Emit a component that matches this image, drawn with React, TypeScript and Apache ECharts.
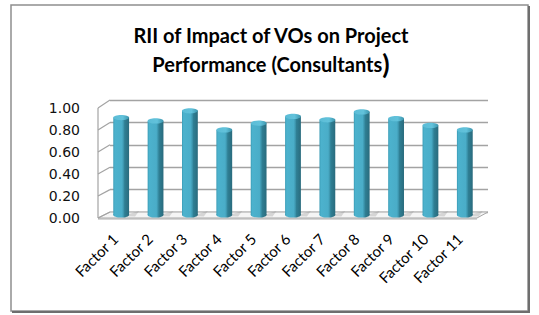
import React, { useEffect, useRef } from "react";
import * as echarts from "echarts";

const categories = [
  "Factor 1", "Factor 2", "Factor 3", "Factor 4", "Factor 5", "Factor 6",
  "Factor 7", "Factor 8", "Factor 9", "Factor 10", "Factor 11",
];
const riiValues = [0.87, 0.84, 0.93, 0.76, 0.82, 0.88, 0.85, 0.92, 0.86, 0.8, 0.76];
const yTicks = [0, 0.2, 0.4, 0.6, 0.8, 1.0];
const titleLine1 = "RII of Impact of VOs on Project";
const titleLine2 = "Performance (Consultants";

export default function App() {
  const ref = useRef<HTMLDivElement>(null);

  useEffect(() => {
    const chart = echarts.init(ref.current!, null, { renderer: "svg" });

    const bodyGradient = () =>
      new echarts.graphic.LinearGradient(0, 0, 1, 0, [
        { offset: 0, color: "#3A9BB5" },
        { offset: 0.1, color: "#4CB2CD" },
        { offset: 0.55, color: "#4AADC8" },
        { offset: 0.66, color: "#3B93AB" },
        { offset: 0.72, color: "#2F7F94" },
        { offset: 1, color: "#2A6B7D" },
      ]);
    const capGradient = () =>
      new echarts.graphic.LinearGradient(0, 0, 1, 0, [
        { offset: 0, color: "#5BBCD6" },
        { offset: 0.6, color: "#62C2DB" },
        { offset: 1, color: "#3C95AD" },
      ]);

    const axisMax = yTicks[yTicks.length - 1];
    const axisStep = yTicks[1] - yTicks[0];

    const option: any = {
      animation: false,
      backgroundColor: "#ffffff",
      title: {
        text: titleLine1 + "\n" + titleLine2 + "{p|)}",
        left: 266,
        top: 15,
        textAlign: "center",
        textStyle: {
          fontFamily: "Lato",
          fontWeight: "bold",
          fontSize: 20,
          lineHeight: 29,
          color: "#000000",
          rich: {
            p: { fontFamily: "Lato", fontWeight: "bold", fontSize: 27, lineHeight: 29, color: "#000000" },
          },
        },
      },
      grid: [
        { left: 110, right: 51, top: 100, bottom: 103 },
        { left: 104, right: 57, top: 103, bottom: 100 },
        { left: 98, right: 62, top: 108, bottom: 97 },
      ],
      xAxis: [
        { type: "category", data: categories, gridIndex: 0, show: false },
        { type: "category", data: categories, gridIndex: 1, show: false },
        {
          type: "category",
          data: categories,
          gridIndex: 2,
          axisLine: { show: false },
          axisTick: { show: false },
          axisLabel: {
            interval: 0,
            rotate: 45,
            margin: 18,
            fontFamily: "Lato",
            fontSize: 15,
            color: "#000000",
          },
        },
      ],
      yAxis: [
        {
          type: "value",
          gridIndex: 0,
          min: 0,
          max: axisMax,
          interval: axisStep,
          axisLine: { show: false },
          axisTick: { show: false },
          axisLabel: { show: false },
          splitLine: { lineStyle: { color: "#A3A3A3", width: 1.3 } },
        },
        { type: "value", gridIndex: 1, min: 0, max: axisMax, interval: axisStep, show: false },
        {
          type: "value",
          gridIndex: 2,
          min: 0,
          max: axisMax,
          interval: axisStep,
          axisLine: { show: false },
          axisTick: { show: false },
          splitLine: { show: false },
          axisLabel: {
            margin: 18,
            fontFamily: "DejaVu Sans",
            fontSize: 14,
            color: "#111111",
            formatter: (v: number) => v.toFixed(2),
          },
        },
      ],
      series: [
        {
          type: "custom",
          xAxisIndex: 1,
          yAxisIndex: 1,
          z: 10,
          data: riiValues.map((v, i) => [i, v]),
          renderItem: (params: any, api: any) => {
            const idx = api.value(0);
            const v = api.value(1);
            const top = api.coord([idx, v]);
            const base = api.coord([idx, 0]);
            const band = api.size([1, 0])[0];
            const w = band * 0.46;
            const x0 = top[0] - w / 2;
            const ry = 2.6;
            return {
              type: "group",
              children: [
                {
                  type: "polygon",
                  shape: {
                    points: [
                      [x0 + w * 0.5, base[1] + 1],
                      [x0 + w, base[1] - 1],
                      [x0 + w + 10, base[1] - 4],
                      [x0 + w + 6, base[1] + 1.5],
                    ],
                  },
                  style: { fill: "rgba(120,120,120,0.25)" },
                },
                {
                  type: "ellipse",
                  shape: { cx: top[0], cy: base[1], rx: w / 2, ry },
                  style: { fill: bodyGradient() },
                },
                {
                  type: "rect",
                  shape: { x: x0, y: top[1], width: w, height: base[1] - top[1] },
                  style: { fill: bodyGradient() },
                },
                {
                  type: "ellipse",
                  shape: { cx: top[0], cy: top[1], rx: w / 2, ry },
                  style: { fill: capGradient() },
                },
              ],
            };
          },
        },
      ],
    };

    chart.setOption(option);

    // 3D walls / floor built from the axes' own pixel positions
    const px = (g: number, i: number, v: number) =>
      chart.convertToPixel({ gridIndex: g } as any, [i, v]) as number[];
    const edges = (g: number) => {
      const a = px(g, 0, 0);
      const b = px(g, 1, 0);
      const band = b[0] - a[0];
      const last = px(g, categories.length - 1, 0);
      return { left: a[0] - band / 2, right: last[0] + band / 2 };
    };
    const back = edges(0);
    const front = edges(2);
    const yBack = (v: number) => px(0, 0, v)[1];
    const yFront = (v: number) => px(2, 0, v)[1];

    const graphics: any[] = [];
    graphics.push({
      type: "polygon",
      z: 1,
      shape: {
        points: [
          [front.left, yFront(0)],
          [front.right, yFront(0)],
          [front.right, yFront(0) + 2],
          [front.left, yFront(0) + 2],
        ],
      },
      style: { fill: "#D6D6D6" },
    });
    graphics.push({
      type: "polygon",
      z: 1,
      shape: {
        points: [
          [back.left, yBack(0)],
          [back.right, yBack(0)],
          [front.right, yFront(0)],
          [front.left, yFront(0)],
        ],
      },
      style: { fill: "#F5F5F5", stroke: "#A6A6A6", lineWidth: 1 },
    });
    yTicks.forEach((t) => {
      graphics.push({
        type: "line",
        z: 1,
        shape: { x1: back.left, y1: yBack(t), x2: front.left, y2: yFront(t) },
        style: { stroke: "#A3A3A3", lineWidth: 1.2 },
      });
    });
    graphics.push({
      type: "line",
      z: 1,
      shape: { x1: front.left, y1: yFront(axisMax), x2: front.left, y2: yFront(0) },
      style: { stroke: "#A3A3A3", lineWidth: 1.2 },
    });
    // outer frame
    graphics.push({
      type: "rect",
      z: 1,
      shape: { x: 11, y: 5, width: 517, height: 306 },
      style: { fill: "none", stroke: "#8E8E8E", lineWidth: 1.5 },
    });
    graphics.push({
      type: "polyline",
      z: 1,
      shape: { points: [[529, 6], [529, 312], [12, 312]] },
      style: { fill: "none", stroke: "#6E6E6E", lineWidth: 2 },
    });

    chart.setOption({ graphic: graphics });

    return () => chart.dispose();
  }, []);

  return (
    <div
      ref={ref}
      style={{ position: "absolute", left: 0, top: 0, width: 539, height: 315 }}
    />
  );
}
